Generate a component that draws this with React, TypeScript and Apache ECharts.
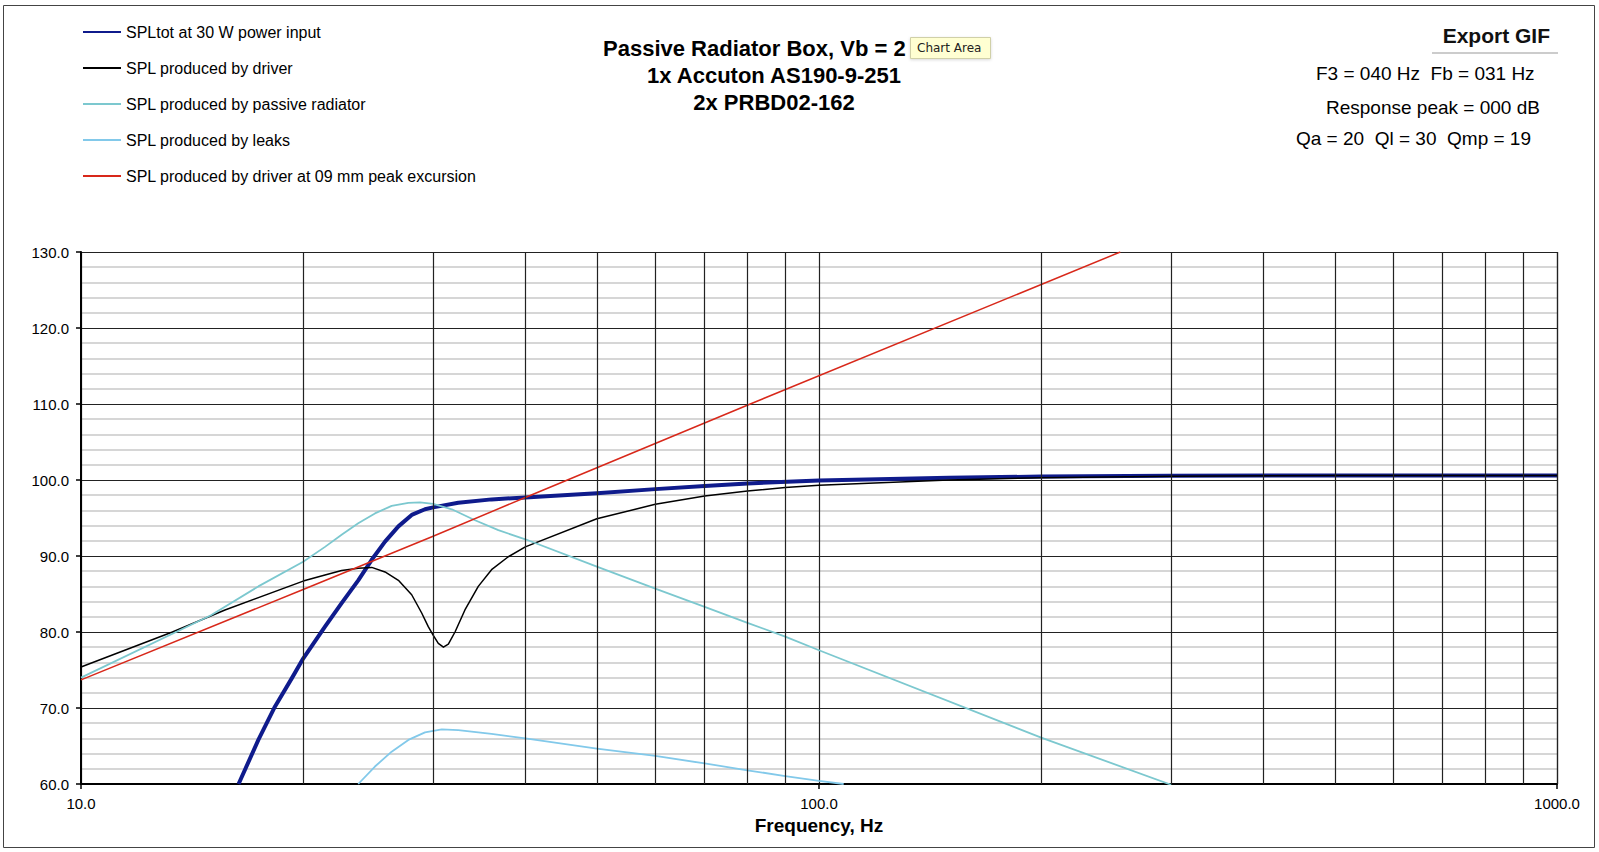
import React, { useEffect, useRef } from "react";
import * as echarts from "echarts";

const FONT = '"Liberation Sans", Arial, Helvetica, sans-serif';

// ---- data ----
const seriesNames = [
  "SPLtot at 30 W power input",
  "SPL produced by driver",
  "SPL produced by passive radiator",
  "SPL produced by leaks",
  "SPL produced by driver at 09 mm peak excursion",
];

const totFreq = [16.35, 17.39, 18.32, 19.3, 20, 21.41, 22.55, 23.75, 24.77, 25.82, 26.92, 28.06, 29.25, 30, 32.45, 36, 40, 50, 60, 70, 80, 100, 150, 200, 300, 500, 1000];
const totSpl = [60.0, 65.8, 70.2, 73.9, 76.5, 80.7, 83.8, 86.8, 89.5, 91.9, 93.9, 95.4, 96.15, 96.4, 97.0, 97.45, 97.7, 98.25, 98.8, 99.2, 99.55, 99.95, 100.3, 100.45, 100.55, 100.6, 100.6];

const drvFreq = [10, 13.3, 15.67, 20, 21.41, 22.55, 23.75, 24.77, 25.82, 26.92, 28.06, 28.95, 29.55, 30, 30.49, 30.98, 31.46, 32.12, 33.13, 34.54, 36, 37.93, 40, 50, 60, 70, 80, 90, 100, 150, 200, 300, 500, 1000];
const drvSpl = [75.4, 80.0, 82.9, 86.7, 87.5, 88.1, 88.4, 88.5, 87.9, 86.8, 84.9, 82.5, 80.7, 79.6, 78.5, 78.0, 78.4, 80.0, 82.9, 86.0, 88.2, 89.9, 91.2, 94.9, 96.8, 97.9, 98.55, 99.0, 99.3, 100.0, 100.3, 100.5, 100.6, 100.6];

const prFreq = [10, 15, 17.39, 20, 21.41, 22.55, 23.75, 25.02, 26.36, 27.77, 28.8, 30, 31.8, 34.19, 36.77, 40, 50, 60, 70, 80, 90, 100, 200, 300];
const prSpl = [74.0, 82.2, 86.0, 89.25, 91.2, 92.8, 94.3, 95.6, 96.6, 97.0, 97.05, 96.85, 96.15, 94.7, 93.4, 92.2, 88.6, 85.7, 83.3, 81.2, 79.4, 77.6, 66.1, 59.9];

const leakFreq = [23.75, 25.02, 26.36, 27.77, 29.25, 30.82, 32.45, 36, 40, 50, 60, 70, 80, 90, 100, 108];
const leakSpl = [60.0, 62.3, 64.25, 65.8, 66.8, 67.2, 67.1, 66.6, 66.0, 64.65, 63.7, 62.7, 61.8, 61.05, 60.4, 60.0];

const xmaxFreq = [10, 20, 30, 40, 80.7, 256];
const xmaxSpl = [73.7, 85.6, 92.6, 97.7, 110.0, 130.0];

const gridFreqs = [20, 30, 40, 50, 60, 70, 80, 90, 200, 300, 400, 500, 600, 700, 800, 900, 1000];

const titleLines = ["Passive Radiator Box, Vb = 2", "1x Accuton AS190-9-251", "2x PRBD02-162"];
const infoLines = ["F3 = 040 Hz  Fb = 031 Hz", "Response peak = 000 dB", "Qa = 20  Ql = 30  Qmp = 19"];

const colors = ["#0f1b8c", "#000000", "#7cc8cf", "#82c9ea", "#d8281a"];
const widths = [4, 1.5, 1.8, 1.8, 1.5];

function pairs(f: number[], v: number[]) {
  return f.map((x, i) => [x, v[i]]);
}

function txt(text: string, x: number, y: number, font: string, align: string, extra: any = {}) {
  return {
    type: "text",
    x,
    y,
    ...extra,
    style: {
      text,
      font,
      fill: "#000",
      align,
      verticalAlign: "middle",
      textAlign: align,
      textVerticalAlign: "middle",
      ...(extra.style || {}),
    },
  };
}

export default function App() {
  const ref = useRef<HTMLDivElement>(null);

  useEffect(() => {
    if (!ref.current) return;
    const chart = echarts.init(ref.current, undefined, { renderer: "svg" });

    const dataSets = [
      pairs(totFreq, totSpl),
      pairs(drvFreq, drvSpl),
      pairs(prFreq, prSpl),
      pairs(leakFreq, leakSpl),
      pairs(xmaxFreq, xmaxSpl),
    ];

    const series: any[] = [
      {
        type: "line",
        name: "__grid",
        data: [],
        silent: true,
        symbol: "none",
        markLine: {
          silent: true,
          symbol: ["none", "none"],
          label: { show: false },
          emphasis: { disabled: true },
          lineStyle: { color: "#222", width: 1.2, type: "solid" },
          data: gridFreqs.map((f) => ({ xAxis: f })),
        },
      },
    ];
    seriesNames.forEach((name, i) => {
      series.push({
        type: "line",
        name,
        data: dataSets[i],
        symbol: "none",
        smooth: false,
        clip: true,
        lineStyle: { color: colors[i], width: widths[i], join: "round" },
        itemStyle: { color: colors[i] },
        emphasis: { disabled: true },
      });
    });

    const graphic: any[] = [
      {
        type: "rect",
        shape: { x: 3.5, y: 5.5, width: 1591, height: 842 },
        style: { fill: "none", stroke: "#444", lineWidth: 1 },
        silent: true,
        z: -10,
      },
      txt(titleLines[0], 603, 48, `bold 22px ${FONT}`, "left"),
      txt(titleLines[1], 774, 75, `bold 22px ${FONT}`, "center"),
      txt(titleLines[2], 774, 102, `bold 22px ${FONT}`, "center"),
      {
        type: "rect",
        z: 100,
        shape: { x: 910.5, y: 37.5, width: 80, height: 21 },
        style: { fill: "#ffffd2", stroke: "#d0d0a8", lineWidth: 1, shadowBlur: 3, shadowColor: "rgba(0,0,0,0.15)", shadowOffsetY: 1 },
      },
      txt("Chart Area", 917, 48, `12px "DejaVu Sans", sans-serif`, "left", { z: 101, style: { fill: "#222" } }),
      txt("Export GIF", 1550, 35, `bold 21px ${FONT}`, "right", { style: { fill: "#111" } }),
      {
        type: "line",
        shape: { x1: 1432, y1: 53, x2: 1558, y2: 53 },
        style: { stroke: "#bbb", lineWidth: 1.5 },
      },
      txt(infoLines[0], 1316, 73, `19px ${FONT}`, "left"),
      txt(infoLines[1], 1326, 107, `19px ${FONT}`, "left"),
      txt(infoLines[2], 1296, 138, `19px ${FONT}`, "left"),
    ];

    chart.setOption({
      animation: false,
      backgroundColor: "#ffffff",
      textStyle: { fontFamily: FONT },
      grid: { left: 81, right: 42, top: 252, bottom: 68, containLabel: false },
      legend: {
        orient: "vertical",
        left: 82,
        top: 24,
        padding: 0,
        itemWidth: 38,
        itemHeight: 16,
        itemGap: 20,
        selectedMode: false,
        data: seriesNames,
        itemStyle: { opacity: 0 },
        textStyle: { fontSize: 16, color: "#000", fontFamily: FONT },
      },
      xAxis: {
        type: "log",
        logBase: 10,
        min: 10,
        max: 1000,
        name: "Frequency, Hz",
        nameLocation: "middle",
        nameGap: 27,
        nameTextStyle: { fontWeight: "bold", fontSize: 19, color: "#000", fontFamily: FONT },
        axisLine: { show: true, lineStyle: { color: "#000", width: 2 } },
        axisTick: { show: true, length: 5, lineStyle: { color: "#000", width: 1.5 } },
        axisLabel: {
          color: "#000",
          fontSize: 15,
          fontFamily: FONT,
          margin: 12,
          formatter: (v: number) => Number(v).toFixed(1),
        },
        splitLine: { show: true, lineStyle: { color: "#222", width: 1.2 } },
        minorTick: { show: false },
      },
      yAxis: {
        type: "value",
        min: 60,
        max: 130,
        interval: 10,
        axisLine: { show: true, lineStyle: { color: "#000", width: 2 } },
        axisTick: { show: true, length: 5, lineStyle: { color: "#000", width: 1.5 } },
        axisLabel: {
          color: "#000",
          fontSize: 15,
          fontFamily: FONT,
          margin: 12,
          formatter: (v: number) => Number(v).toFixed(1),
        },
        splitLine: { show: true, lineStyle: { color: "#222", width: 1.2 } },
        minorTick: { show: false, splitNumber: 5 },
        minorSplitLine: { show: true, lineStyle: { color: "#c9c9c9", width: 1.6 } },
      },
      series,
      graphic,
    });

    return () => chart.dispose();
  }, []);

  return (
    <div
      ref={ref}
      style={{ position: "absolute", left: 0, top: 0, width: 1599, height: 852, background: "#fff" }}
    />
  );
}
